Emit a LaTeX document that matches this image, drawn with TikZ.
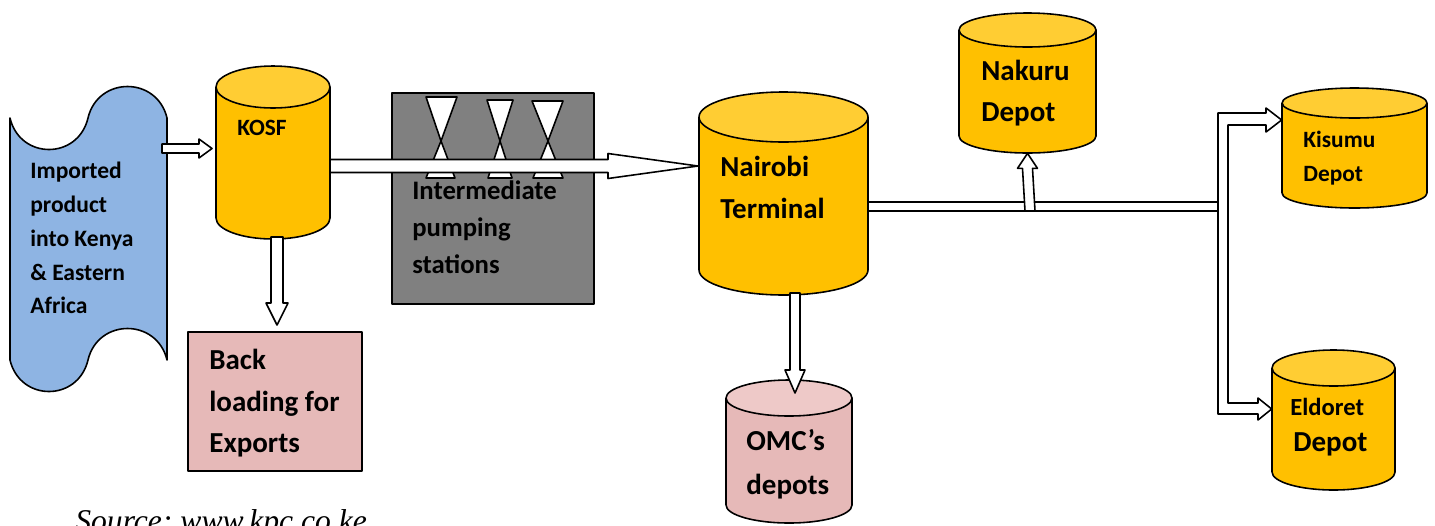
\documentclass[tikz,border=0pt]{standalone}
\usepackage{fontspec}
\setmainfont{Carlito}
\newfontfamily\srcfont{Liberation Serif}
\usetikzlibrary{calc,fit}

\definecolor{tapeblue}{HTML}{8EB4E3}
\definecolor{tankbody}{HTML}{FFC000}
\definecolor{tanklid}{HTML}{FFCD33}
\definecolor{omcbody}{HTML}{E6B9B8}
\definecolor{omclid}{HTML}{EEC9C8}
\definecolor{stationgray}{HTML}{808080}

\tikzset{
  outline/.style={draw=black, line width=0.9pt, line join=round},
  pipe/.style={outline, fill=white},
  label/.style={font=\bfseries, anchor=north west, align=left, inner sep=0pt},
}
\newcommand{\lblsize}[2]{\fontsize{#1}{#2}\selectfont}

% tank: name, x left, x right, y lid, y base, ry, body colour, lid colour
\newcommand{\tank}[8]{%
  \filldraw[outline, fill=#7] ({(#2+#3)/2},#5) ellipse [x radius={(#3-#2)/2}, y radius=#6];
  \fill[#7] (#2,#4) rectangle (#3,#5);
  \draw[outline] (#2,#4) -- (#2,#5) (#3,#4) -- (#3,#5);
  \filldraw[outline, fill=#8] ({(#2+#3)/2},#4) ellipse [x radius={(#3-#2)/2}, y radius=#6];
  \node[fit={(#2,{#4-#6}) ({#3},{#5+#6})}, inner sep=0pt] (#1) {};
}
% block arrows: from, to, shaft half, head half, head length
\newcommand{\rarrow}[5]{%
  \draw[pipe] ($(#1)+(0,-#3)$) -- ($(#2)+(-#5,-#3)$) -- ($(#2)+(-#5,-#4)$) -- (#2)
    -- ($(#2)+(-#5,#4)$) -- ($(#2)+(-#5,#3)$) -- ($(#1)+(0,#3)$) -- cycle;}
\newcommand{\darrow}[5]{%
  \draw[pipe] ($(#1)+(-#3,0)$) -- ($(#2)+(-#3,-#5)$) -- ($(#2)+(-#4,-#5)$) -- (#2)
    -- ($(#2)+(#4,-#5)$) -- ($(#2)+(#3,-#5)$) -- ($(#1)+(#3,0)$) -- cycle;}
\newcommand{\uarrow}[5]{%
  \draw[pipe] ($(#1)+(-#3,0)$) -- ($(#2)+(-#3,#5)$) -- ($(#2)+(-#4,#5)$) -- (#2)
    -- ($(#2)+(#4,#5)$) -- ($(#2)+(#3,#5)$) -- ($(#1)+(#3,0)$) -- cycle;}

\begin{document}
\begin{tikzpicture}[x=0.02cm, y=-0.02cm]
\useasboundingbox (0,0) rectangle (1435,525);

% imported product (punched tape)
\filldraw[outline, fill=tapeblue] (10,118) .. controls (20,160) and (78,160) .. (88,118)
  .. controls (98,76) and (157,76) .. (167,118) -- (167,360)
  .. controls (157,318) and (98,318) .. (88,360)
  .. controls (78,402) and (20,402) .. (10,360) -- cycle;
\node[fit={(10,88) (167,390)}, inner sep=0pt] (tape) {};

% tanks
\tank{kosf}{216}{330}{87}{218}{21}{tankbody}{tanklid}
\tank{nairobi}{699}{868}{117}{270}{25}{tankbody}{tanklid}
\tank{nakuru}{959}{1096}{30}{136}{17}{tankbody}{tanklid}
\tank{kisumu}{1282}{1427}{103}{193}{15}{tankbody}{tanklid}
\tank{eldoret}{1272}{1395}{368}{472}{18}{tankbody}{tanklid}
\tank{omc}{726}{852}{398}{505}{18}{omcbody}{omclid}

% intermediate pumping stations
\node[outline, fill=stationgray, fit={(392,93) (594,304)}, inner sep=0pt] (stations) {};
\foreach \xa/\xb/\xm/\yt/\xc/\xd in {426/457/441/97/426/455, 487/513/500/100/488/512, 532/563/548/101/533/563}
  \filldraw[outline, fill=white] (\xa,\yt) -- (\xb,\yt) -- (\xm,141) -- cycle
    (\xm,141) -- (\xd,178) -- (\xc,178) -- cycle;

% back loading
\node[outline, fill=omcbody, fit={(188,332) (362,471)}, inner sep=0pt] (back) {};

% pipeline to upcountry depots
\coordinate (nairobi-out) at (868,202);
\coordinate (junction) at (1218,211);
\draw[pipe] (nairobi-out) rectangle (junction);
\draw[pipe] (1218,113) -- (1266,113) -- (1266,108) -- (kisumu.west |- 0,120) -- (1266,132)
  -- (1266,125) -- (1228,125) -- (1228,403) -- (1258,403) -- (1258,398)
  -- (eldoret.west |- 0,409) -- (1258,420) -- (1258,414) -- (1218,414) -- cycle;

% arrows
\coordinate (tape-out) at (162,148.5);
\coordinate (kosf-in) at (212,148.5);
\coordinate (kosf-out) at (330,166);
\coordinate (nairobi-in) at (698,166);
\coordinate (kosf-down) at (277,237);
\coordinate (back-in) at (277,325);
\coordinate (nairobi-down) at (795,293);
\coordinate (omc-in) at (795,393);
\coordinate (nakuru-up) at (1030,211);
\rarrow{tape-out}{kosf-in}{4.5}{9.5}{13}
\rarrow{kosf-out}{nairobi-in}{6.5}{12.5}{90}
\darrow{kosf-down}{back-in}{6}{11}{22}
\darrow{nairobi-down}{omc-in}{5}{10}{23}
\uarrow{nakuru-up}{nakuru.south}{5}{10}{15}

% labels
\node[label, font=\bfseries\lblsize{13.4}{19.2}] (tape-text) at (30,162) {Imported\\product\\into Kenya\\\& Eastern\\Africa};
\node[label, font=\bfseries\lblsize{13.3}{19}] (kosf-text) at (237,120) {KOSF};
\node[label, font=\bfseries\lblsize{15.2}{21.3}] (stations-text) at (412,180) {Intermediate\\pumping\\stations};
\node[label, font=\bfseries\lblsize{16.5}{23.6}] (back-text) at (209,349) {Back\\loading for\\Exports};
\node[label, font=\bfseries\lblsize{16.5}{23.9}] (nairobi-text) at (720,156) {Nairobi\\Terminal};
\node[label, font=\bfseries\lblsize{16.5}{23.3}] (nakuru-text) at (981,60) {Nakuru\\Depot};
\node[label, font=\bfseries\lblsize{13.3}{19.3}] (kisumu-text) at (1303,131) {Kisumu\\Depot};
\node[label, font=\bfseries\lblsize{14}{17}] (eldoret-text) at (1290,398) {Eldoret};
\node[label, font=\bfseries\lblsize{16.5}{20}] (eldoret-depot) at (1293,432) {Depot};
\node[label, font=\bfseries\lblsize{16.5}{25}] (omc-text) at (746,429) {OMC’s\\depots};
\node[anchor=base west, inner sep=0pt, font=\srcfont\itshape\lblsize{18}{20}] (source) at (75,531) {\frenchspacing Source: www.kpc.co.ke};
\end{tikzpicture}
\end{document}
